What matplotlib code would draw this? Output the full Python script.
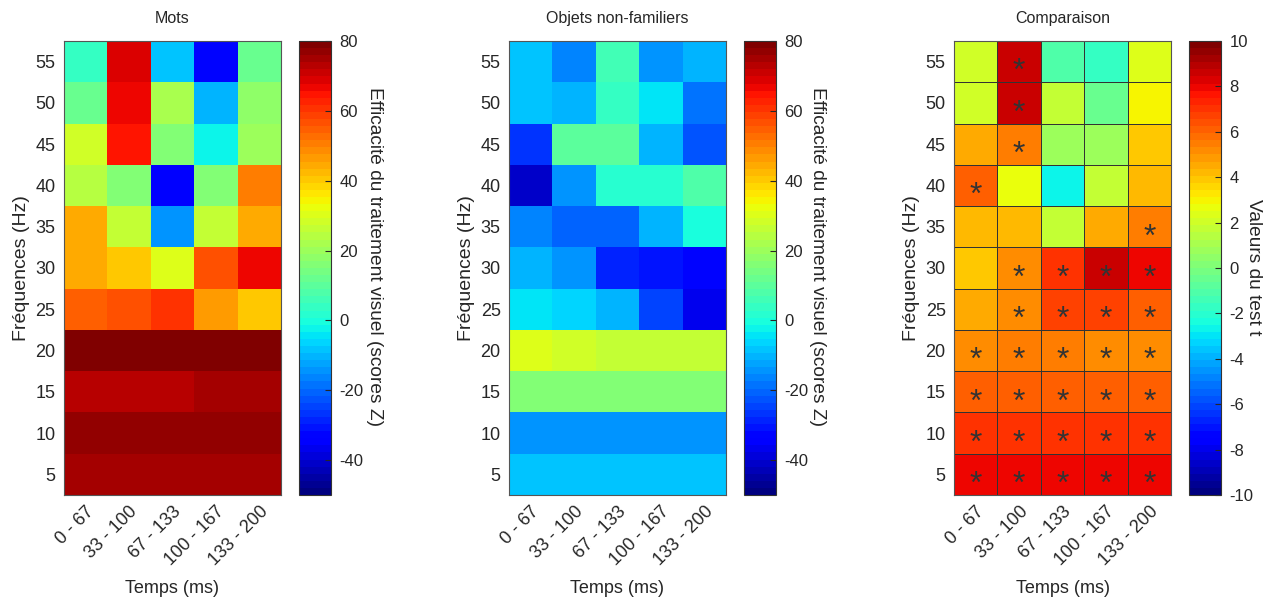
import numpy as np
import matplotlib
matplotlib.use("Agg")
import matplotlib.pyplot as plt

plt.rcParams['font.family'] = ['Liberation Sans', 'DejaVu Sans']
plt.rcParams['axes.unicode_minus'] = False

freqs = [5, 10, 15, 20, 25, 30, 35, 40, 45, 50, 55]
temps = ["0 - 67", "33 - 100", "67 - 133", "100 - 167", "133 - 200"]

# rows = frequencies (5 Hz first), columns = time windows
mots = [
    [75, 75, 75, 75, 75],
    [76.6, 76.6, 76.6, 76.6, 76.6],
    [73.4, 73.4, 73.4, 75, 75],
    [85, 85, 85, 85, 85],
    [54, 56, 61, 45.5, 40],
    [45, 40, 30, 56, 67],
    [43.7, 26, -14, 26, 45],
    [25, 15, -35, 15, 50.7],
    [29, 65, 15.6, -3, 21],
    [11, 66, 21.6, -9.6, 17.6],
    [3, 69, -7.7, -32, 11.6],
]

objets = [
    [-7.7, -7.7, -7.7, -7.7, -7.7],
    [-14, -14, -14, -14, -14],
    [15.6, 15.6, 15.6, 15.6, 15.6],
    [30, 28, 27, 27, 27],
    [-4.5, -6, -9.6, -25.6, -36],
    [-9.6, -14, -29, -31, -32],
    [-17.5, -20, -21, -9.6, -1],
    [-41, -14, 1.5, 1.5, 6.9],
    [-27, 9.8, 9.8, -9.6, -22],
    [-7.7, -9.6, 3, -3.6, -19],
    [-7.7, -15.9, 6, -14, -11],
]

tvals = [
    [8.1, 8.1, 8.1, 8.1, 8.1],
    [7.1, 7.1, 7.1, 7.1, 7.1],
    [6.2, 6.2, 6.2, 6.2, 6.2],
    [5.3, 5.4, 5.5, 5.3, 5.0],
    [4.4, 5.3, 6.6, 6.7, 6.0],
    [3.8, 5.0, 7.1, 8.7, 8.0],
    [4.3, 4.2, 1.6, 4.4, 5.5],
    [6.0, 2.8, -2.8, 1.6, 4.1],
    [4.4, 5.5, 0.7, 0.7, 4.0],
    [2.0, 8.7, 1.6, -0.5, 3.0],
    [2.0, 8.7, -1.2, -1.8, 2.3],
]

signif = [
    [1, 1, 1, 1, 1],
    [1, 1, 1, 1, 1],
    [1, 1, 1, 1, 1],
    [1, 1, 1, 1, 1],
    [0, 1, 1, 1, 1],
    [0, 1, 1, 1, 1],
    [0, 0, 0, 0, 1],
    [1, 0, 0, 0, 0],
    [0, 1, 0, 0, 0],
    [0, 1, 0, 0, 0],
    [0, 1, 0, 0, 0],
]

cmap = plt.get_cmap('jet', 64)
txt = '#262626'

fig = plt.figure(figsize=(12.69, 6.04), dpi=100)

# title, data, colour limits, colorbar ticks, colorbar label,
# axes left, colorbar left, colorbar label x / y (figure fraction)
panels = [
    ("Mots", mots, -50, 80, range(-40, 81, 20),
     "Efficacité du traitement visuel (scores Z)", 0.0504, 0.2356, 0.2955, 0.576),
    ("Objets non-familiers", objets, -50, 80, range(-40, 81, 20),
     "Efficacité du traitement visuel (scores Z)", 0.4011, 0.5863, 0.6445, 0.576),
    ("Comparaison", tvals, -10, 10, range(-10, 11, 2),
     "Valeurs du test t", 0.7518, 0.937, 0.9875, 0.558),
]

bottom, height = 0.1805, 0.7517
xedges = np.arange(len(temps) + 1)
yedges = np.arange(2.5, 60, 5)

for k, (title, data, vmin, vmax, cticks, clabel, x0, cx0, lx, ly) in enumerate(panels):
    ax = fig.add_axes([x0, bottom, 0.171, height])
    cax = fig.add_axes([cx0, bottom, 0.0252, height])
    grid = k == 2
    mesh = ax.pcolormesh(xedges, yedges, np.array(data), cmap=cmap,
                         vmin=vmin, vmax=vmax,
                         edgecolors='#333333' if grid else 'face',
                         linewidth=0.6 if grid else 0)
    if grid:
        for i, row in enumerate(signif):
            for j, s in enumerate(row):
                if s:
                    ax.text(j + 0.5, freqs[i] - 1.3, '*', ha='center',
                            va='center', fontsize=23, color='#333333')
    ax.set_xlim(0, len(temps))
    ax.set_ylim(2.5, 57.5)
    ax.set_yticks(freqs)
    ax.set_xticks(xedges[:-1] + 0.5)
    ax.set_xticklabels(temps, rotation=45, ha='right', rotation_mode='anchor')
    ax.tick_params(length=0, labelsize=13, colors=txt, pad=6)
    for sp in ax.spines.values():
        sp.set_color('#555555')
        sp.set_linewidth(0.8)
    ax.set_title(title, fontsize=11.5, color=txt, pad=13)
    ax.set_xlabel("Temps (ms)", fontsize=13, color=txt, labelpad=8)
    ax.set_ylabel("Fréquences (Hz)", fontsize=14, color=txt, labelpad=4)

    cb = fig.colorbar(mesh, cax=cax, ticks=list(cticks))
    cb.outline.set_linewidth(0.8)
    cb.outline.set_color('#333333')
    cax.tick_params(direction='in', length=4, labelsize=12, colors=txt, pad=6)
    fig.text(lx, ly, clabel, rotation=270, ha='center', va='center',
             fontsize=13.8, color=txt)

fig.savefig("out.png", dpi=100)
